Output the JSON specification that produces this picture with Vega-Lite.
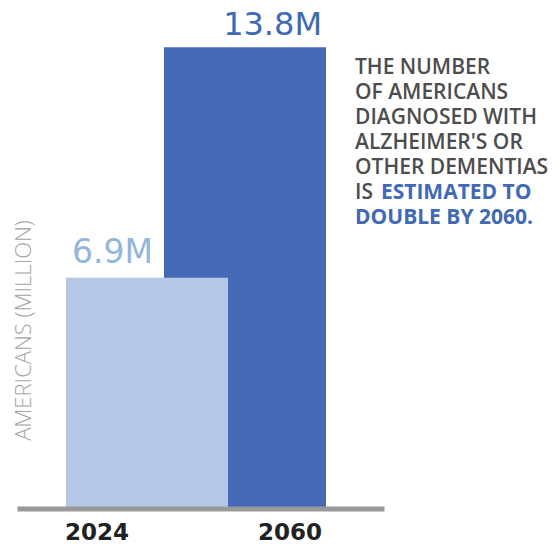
{
  "$schema": "https://vega.github.io/schema/vega-lite/v6.json",
  "width": 367,
  "height": 468,
  "autosize": "none",
  "padding": {"left": 17, "top": 40.5, "right": 173, "bottom": 39.5},
  "background": "white",
  "config": {"view": {"stroke": null}},
  "title": {
    "text": ["THE NUMBER", "OF AMERICANS", "DIAGNOSED WITH", "ALZHEIMER'S OR", "OTHER DEMENTIAS", "IS"],
    "subtitle": ["\u2800\u00a0\u00a0ESTIMATED TO", "DOUBLE BY 2060."],
    "anchor": "start",
    "frame": "group",
    "orient": "top",
    "align": "left",
    "baseline": "top",
    "dx": 338,
    "dy": 219,
    "offset": 0,
    "font": "Open Sans",
    "fontSize": 21,
    "fontWeight": 600,
    "color": "#4d4d4d",
    "lineHeight": 25,
    "subtitleFont": "Open Sans",
    "subtitleFontSize": 21,
    "subtitleFontWeight": "bold",
    "subtitleColor": "#4169b4",
    "subtitleLineHeight": 25,
    "subtitlePadding": -21
  },
  "data": {
    "values": [
      {"year": "2060", "value": 13.8, "label": "13.8M"},
      {"year": "2024", "value": 6.9, "label": "6.9M"}
    ]
  },
  "encoding": {
    "x": {
      "field": "year",
      "type": "nominal",
      "scale": {"type": "band", "domain": ["2024", "2060"], "paddingInner": 0, "paddingOuter": 0.8724, "align": 0.4737},
      "axis": {
        "title": null,
        "domain": true,
        "domainColor": "#999999",
        "domainWidth": 5,
        "ticks": false,
        "tickSize": 0,
        "grid": false,
        "labelPadding": 13,
        "labelFont": "DejaVu Sans",
        "labelFontWeight": "bold",
        "labelFontSize": 23,
        "labelColor": "#222222",
        "labelAngle": 0,
        "labelOffset": {"condition": {"test": "datum.value === '2024'", "value": -50}, "value": 45},
        "zindex": 1
      }
    },
    "y": {
      "field": "value",
      "type": "quantitative",
      "stack": null,
      "scale": {"domain": [0, 14], "nice": false, "zero": true},
      "axis": {
        "title": "AMERICANS (MILLION)",
        "domain": false,
        "ticks": false,
        "labels": false,
        "grid": false,
        "titleFont": "Open Sans",
        "titleFontWeight": 300,
        "titleFontSize": 22,
        "titleColor": "#a3a3a3",
        "titleX": 13,
        "titleY": 289.5,
        "titleAngle": -90,
        "titleAlign": "center",
        "titleBaseline": "alphabetic"
      }
    }
  },
  "layer": [
    {
      "mark": {"type": "bar", "size": 162},
      "encoding": {
        "color": {
          "field": "year",
          "type": "nominal",
          "scale": {"domain": ["2024", "2060"], "range": ["#b4c7e5", "#4569b4"]},
          "legend": null
        }
      }
    },
    {
      "transform": [{"filter": "datum.year === '2024'"}],
      "mark": {"type": "text", "align": "left", "baseline": "alphabetic", "dx": -75, "dy": -15, "font": "DejaVu Sans", "fontSize": 33, "color": "#95b5db"},
      "encoding": {"text": {"field": "label"}}
    },
    {
      "transform": [{"filter": "datum.year === '2060'"}],
      "mark": {"type": "text", "align": "right", "baseline": "alphabetic", "dx": 77, "dy": -12, "font": "DejaVu Sans", "fontSize": 32, "color": "#4169b3"},
      "encoding": {"text": {"field": "label"}}
    }
  ]
}
